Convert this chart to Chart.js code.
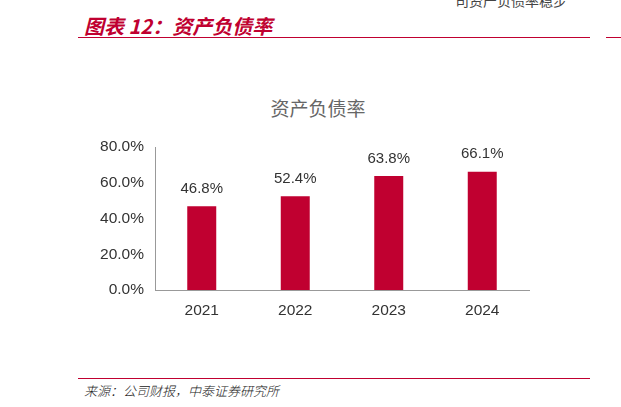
<!DOCTYPE html>
<html><head><meta charset="utf-8">
<script src="https://cdn.jsdelivr.net/npm/chart.js@4"></script>
<style>
body{margin:0;width:621px;height:407px;background:#fff;position:relative;overflow:hidden;font-family:"Noto Sans CJK SC",sans-serif}
#hdr{position:absolute;left:84px;top:11px;color:#c00030;font-size:20px;font-weight:bold;font-style:italic}
#l1{position:absolute;left:78px;top:37px;width:512px;height:1px;background:#c00030}
#l1b{position:absolute;left:606px;top:37px;width:15px;height:1px;background:#c00030}
#l2{position:absolute;left:78px;top:378px;width:512px;height:1px;background:#c00030}
#src{position:absolute;left:84px;top:381px;font-size:13px;color:#222;font-style:italic;font-weight:300}
#ttl{position:absolute;left:0;width:636px;text-align:center;top:94px;font-size:19px;color:#666}
#tr{position:absolute;left:455px;top:-10px;font-size:14px;color:#444}
canvas{position:absolute;left:0;top:0}
</style></head><body>
<div id="tr">司资产负债率稳步</div>
<div id="hdr">图表 12：资产负债率</div>
<div id="l1"></div><div id="l1b"></div>
<div id="ttl">资产负债率</div>
<div id="l2"></div>
<div id="src">来源：公司财报，中泰证券研究所</div>
<canvas id="c" width="621" height="407"></canvas>
<script>
const categories=["2021","2022","2023","2024"];
const values=[46.8,52.4,63.8,66.1];
const labelPlugin={id:'lbl',afterDatasetsDraw(ch){const ctx=ch.ctx;const m=ch.getDatasetMeta(0);ctx.save();ctx.font='15px "Liberation Sans", Arial';ctx.fillStyle='#333';ctx.textAlign='center';ctx.textBaseline='bottom';
m.data.forEach((b,i)=>ctx.fillText(values[i].toFixed(1)+'%',b.x,b.y-10));ctx.restore();}};
new Chart(document.getElementById('c'),{type:'bar',
data:{labels:categories,datasets:[{data:values,backgroundColor:'#c00030',barPercentage:0.31,categoryPercentage:1}]},
options:{responsive:false,animation:false,layout:{padding:{left:92,right:92,top:147,bottom:82}},
plugins:{legend:{display:false},tooltip:{enabled:false}},
scales:{y:{min:0,max:80,afterFit(s){s.width=63},ticks:{stepSize:20,callback:v=>v.toFixed(1)+'%',color:'#333',font:{size:15.5,family:'"Liberation Sans", Arial'}},grid:{display:false,drawTicks:true},border:{color:'#999'}},
x:{afterFit(s){s.height=35},ticks:{color:'#333',font:{size:15.5,family:'"Liberation Sans", Arial'}},grid:{display:false,offset:true},border:{color:'#999'}}}},
plugins:[labelPlugin]});
</script></body></html>
